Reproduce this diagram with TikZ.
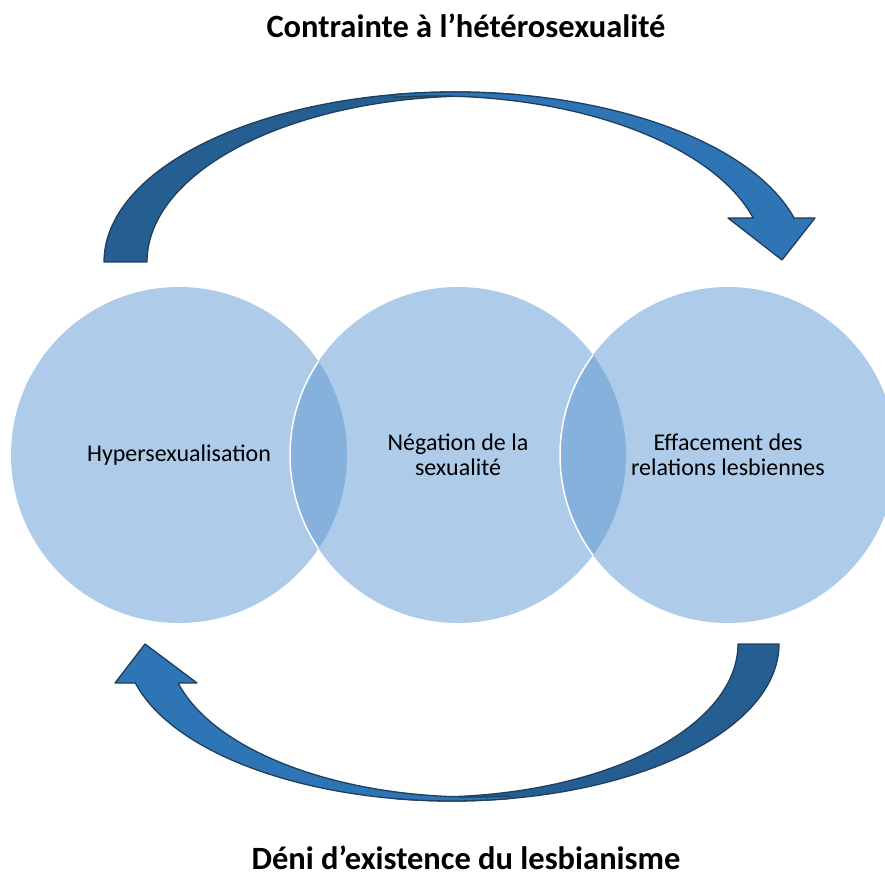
\documentclass[tikz,border=0pt]{standalone}
\usepackage{fontspec}
\setmainfont{Carlito}
\definecolor{vennblue}{RGB}{174,203,233}
\definecolor{venndark}{RGB}{133,177,220}
\definecolor{arrowback}{RGB}{37,94,145}
\definecolor{arrowfront}{RGB}{46,117,182}
\definecolor{arrowline}{RGB}{32,62,94}
\begin{document}
\begin{tikzpicture}[x=1pt,y=1pt,
    venn/.style={shape=circle,minimum size=336pt,inner sep=0pt,outer sep=0pt,fill=vennblue,align=center,font=\fontsize{24}{25}\selectfont},
    back/.style={fill=arrowback,draw=arrowline,line width=1.3pt,line join=round},
    front/.style={fill=arrowfront,draw=arrowline,line width=1.3pt,line join=round},
    heading/.style={font=\bfseries\fontsize{32.5}{34}\selectfont,anchor=base,inner sep=1pt}]
        \useasboundingbox (0,0) rectangle (885,878);
        \clip (0,0) rectangle (885,878);
        \node[venn] (hyper) at (179,423) {Hypersexualisation};
        \node[venn] (negation) at (458,423) {Négation de la\\sexualité};
        \node[venn] (effacement) at (728,423) {Effacement des\\relations lesbiennes};
        \begin{scope}
        \clip (hyper.center) circle[radius=168];
        \fill[venndark] (negation.center) circle[radius=168];
        \draw[white,line width=1.5pt] (negation.center) circle[radius=168];
        \end{scope}
        \begin{scope}
        \clip (negation.center) circle[radius=168];
        \fill[venndark] (effacement.center) circle[radius=168];
        \draw[white,line width=1.5pt] (effacement.center) circle[radius=168];
        \end{scope}
        \node[heading] (contrainte) at (466,840) {Contrainte à l’hétérosexualité};
        \node[heading] (deni) at (466,9) {Déni d’existence du lesbianisme};
        \draw[back] (104,616) arc[start angle=180,end angle=80,x radius=351,y radius=170]
            -- (516.1,780.7) arc[start angle=82.8,end angle=180,x radius=328,y radius=166] -- cycle;
        \draw[front] (394.1,783.4) arc[start angle=100,end angle=15,x radius=351,y radius=170]
            -- (815,660) -- (782,618) -- (728,660)
            -- (753.2,660) arc[start angle=15.37,end angle=97.1,x radius=330,y radius=166] -- cycle;
        \draw[back] (779,234) arc[start angle=0,end angle=-100,x radius=327,y radius=157]
            -- (395.2,82.1) arc[start angle=-96.9,end angle=0,x radius=306,y radius=153] -- cycle;
        \draw[front] (508.8,79.4) arc[start angle=-80,end angle=-165.6,x radius=327,y radius=157]
            -- (115,195) -- (145,234) -- (197,195)
            -- (178.2,194.9) arc[start angle=-165.2,end angle=-83.5,x radius=306,y radius=153] -- cycle;
\end{tikzpicture}
\end{document}
